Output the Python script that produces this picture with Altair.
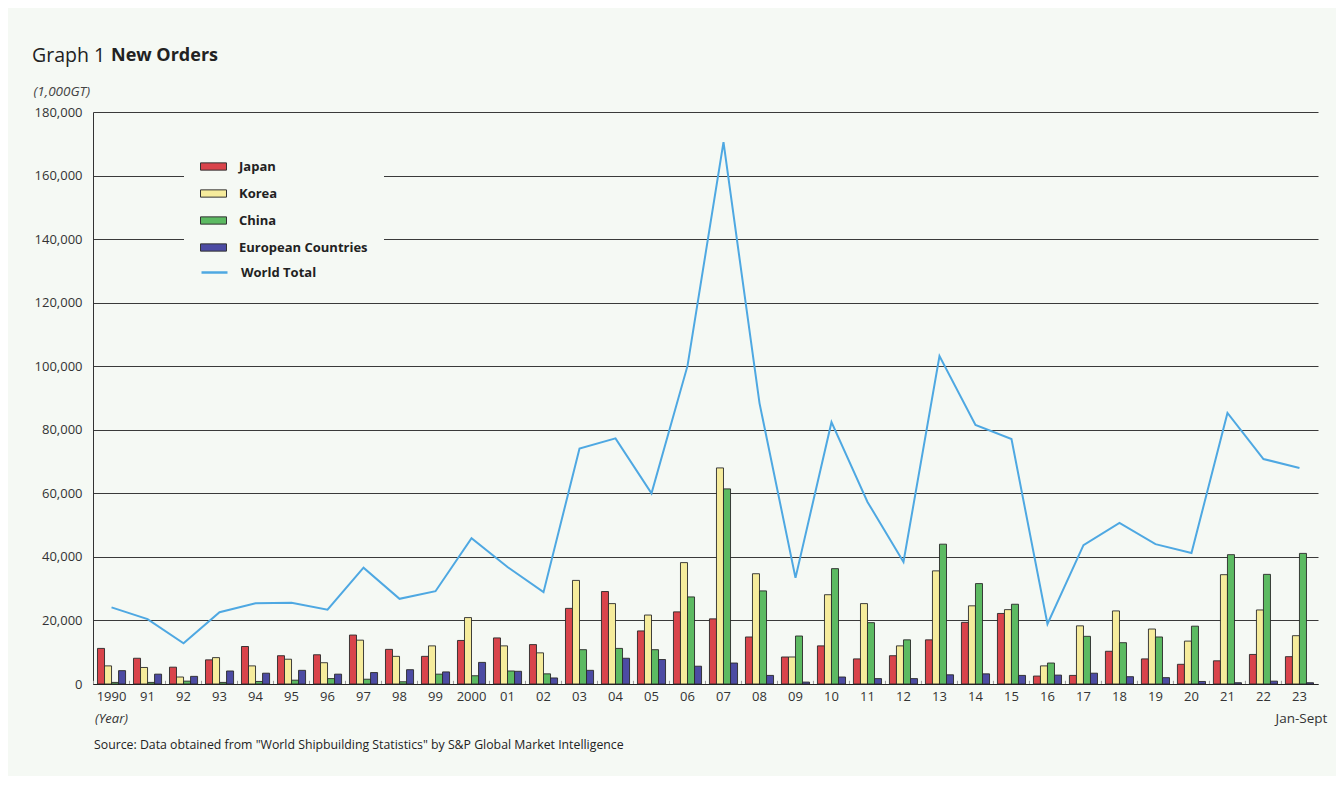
import altair as alt
import pandas as pd

years = ["1990", "91", "92", "93", "94", "95", "96", "97", "98", "99",
         "2000", "01", "02", "03", "04", "05", "06", "07", "08", "09",
         "10", "11", "12", "13", "14", "15", "16", "17", "18", "19",
         "20", "21", "22", "23"]

countries = ["Japan", "Korea", "China", "European Countries"]
colors = ["#d9444b", "#f6ec9c", "#5cba62", "#4c4ba3"]

# values in 1,000GT
japan = [11200, 8100, 5300, 7600, 11800, 8900, 9200, 15400, 10900, 8700,
         13700, 14500, 12400, 23800, 29100, 16700, 22700, 20500, 14800, 8500,
         12000, 7900, 8900, 13900, 19400, 22200, 2500, 2700, 10300, 7900,
         6200, 7300, 9300, 8600]
korea = [5700, 5200, 2200, 8300, 5700, 7800, 6700, 13800, 8700, 12000,
         20900, 12000, 9800, 32600, 25300, 21700, 38200, 68000, 34700, 8500,
         28100, 25300, 12000, 35600, 24600, 23400, 5700, 18300, 23000, 17300,
         13500, 34400, 23300, 15200]
china = [500, 500, 900, 500, 800, 1200, 1700, 1500, 700, 3100,
         2600, 4100, 3200, 10800, 11200, 10800, 27400, 61400, 29300, 15100,
         36300, 19300, 13900, 44000, 31600, 25100, 6600, 15000, 13000, 14800,
         18200, 40700, 34500, 41100]
europe = [4200, 3100, 2400, 4100, 3400, 4300, 3100, 3600, 4500, 3800,
          6800, 4000, 1900, 4300, 8100, 7700, 5600, 6600, 2700, 600,
          2200, 1700, 1700, 2900, 3200, 2700, 2800, 3400, 2300, 2000,
          800, 400, 900, 400]
world = [24100, 20400, 12800, 22600, 25400, 25600, 23400, 36600, 26800, 29200,
         45900, 36800, 28900, 74100, 77300, 60000, 100100, 170500, 88400, 33400,
         82400, 57300, 38400, 103200, 81500, 77100, 18900, 43700, 50700, 44000,
         41200, 85300, 70800, 68000]

y_ticks = list(range(0, 180001, 20000))

FONT = "Open Sans"
BG = "#f5f9f4"

rows = []
for name, vals in zip(countries, [japan, korea, china, europe]):
    for yr, v in zip(years, vals):
        rows.append({"year": yr, "country": name, "value": v})
bar_df = pd.DataFrame(rows)
world_df = pd.DataFrame({"year": years, "value": world, "series": ["World Total"] * len(years)})

x_enc = alt.X(
    "year:N",
    sort=years,
    scale=alt.Scale(domain=years, paddingInner=0.22, paddingOuter=0.125),
    axis=alt.Axis(title=None, labelAngle=0, ticks=False, domain=True,
                  domainColor="#222222", domainWidth=1.2, labelPadding=6,
                  labelFont=FONT, labelFontSize=13, labelColor="#333333",
                  grid=False),
)

y_enc = alt.Y(
    "value:Q",
    scale=alt.Scale(domain=[0, 180000], nice=False),
    axis=alt.Axis(values=y_ticks, format=",.0f", grid=True, gridColor="#3a3a3a",
                  gridWidth=1, ticks=False, domain=True, domainColor="#333333",
                  labelPadding=11, labelFont=FONT, labelFontSize=13,
                  labelColor="#333333", title="(1,000GT)", titleAngle=0,
                  titleAlign="left", titleBaseline="alphabetic", titleX=-60,
                  titleY=-17, titleFont=FONT, titleFontStyle="italic",
                  titleFontWeight="normal", titleFontSize=13.5,
                  titleColor="#444444"),
)

bars = alt.Chart(bar_df).mark_bar(stroke="#2a2a2a", strokeWidth=0.9).encode(
    x=x_enc,
    xOffset=alt.XOffset("country:N", sort=countries,
                        scale=alt.Scale(domain=countries, paddingInner=0, paddingOuter=0)),
    y=y_enc,
    fill=alt.Fill(
        "country:N",
        scale=alt.Scale(domain=countries, range=colors),
        legend=alt.Legend(
            title=None, orient="none", legendX=91, legendY=25,
            symbolType="M-1,-0.28H1V0.28H-1Z", symbolSize=676,
            symbolStrokeColor="#333333", symbolStrokeWidth=1,
            labelFont=FONT, labelFontWeight="bold", labelFontSize=13,
            labelColor="#222222", labelOffset=12, rowPadding=6,
            padding=16, fillColor=BG,
        ),
    ),
)

line = alt.Chart(world_df).mark_line(strokeWidth=2).encode(
    x=alt.X("year:N", sort=years),
    y=alt.Y("value:Q"),
    stroke=alt.Stroke(
        "series:N",
        scale=alt.Scale(domain=["World Total"], range=["#4ea8e2"]),
        legend=alt.Legend(
            title=None, orient="none", legendX=91, legendY=130,
            symbolType="stroke", symbolSize=676, symbolStrokeWidth=2.5,
            labelFont=FONT, labelFontWeight="bold", labelFontSize=13,
            labelColor="#222222", labelOffset=12, rowPadding=0, padding=16,
        ),
    ),
)

ticks = alt.Chart(world_df).mark_rule(color="#999999", strokeWidth=1, xOffset=-4).encode(
    x=alt.X("year:N", sort=years, bandPosition=0),
    y=alt.datum(0),
    y2=alt.datum(1000),
)

title1 = alt.Chart(pd.DataFrame({"t": ["Graph 1"]})).mark_text(
    font=FONT, fontSize=19.5, color="#222222", align="left", baseline="middle"
).encode(x=alt.value(-61), y=alt.value(-56), text="t:N")

title2 = alt.Chart(pd.DataFrame({"t": ["New Orders"]})).mark_text(
    font=FONT, fontSize=18, fontWeight="bold", color="#222222", align="left",
    baseline="middle"
).encode(x=alt.value(18), y=alt.value(-56), text="t:N")

year_note = alt.Chart(pd.DataFrame({"year": ["1990"], "t": ["(Year)"]})).mark_text(
    font=FONT, fontSize=13, fontStyle="italic", color="#333333", baseline="middle"
).encode(x=alt.X("year:N", sort=years), y=alt.value(607), text="t:N")

jan_note = alt.Chart(pd.DataFrame({"year": ["23"], "t": ["Jan-Sept"]})).mark_text(
    font=FONT, fontSize=13.5, color="#333333", baseline="middle", dx=2
).encode(x=alt.X("year:N", sort=years), y=alt.value(607), text="t:N")

source = alt.Chart(pd.DataFrame({"t": ['Source: Data obtained from "World Shipbuilding Statistics" by S&P Global Market Intelligence']})).mark_text(
    font=FONT, fontSize=12.3, color="#222222", align="left", baseline="middle"
).encode(x=alt.value(1), y=alt.value(633), text="t:N")

chart = alt.layer(bars, ticks, line, title1, title2, year_note, jan_note, source).properties(
    width=1225,
    height=572,
    background=BG,
    padding={"left": 85, "top": 104, "right": 18, "bottom": 92},
    autosize=alt.AutoSizeParams(type="none"),
).configure_view(stroke=None)

chart.save("out.html", embed_options={"renderer": "svg", "actions": False})
